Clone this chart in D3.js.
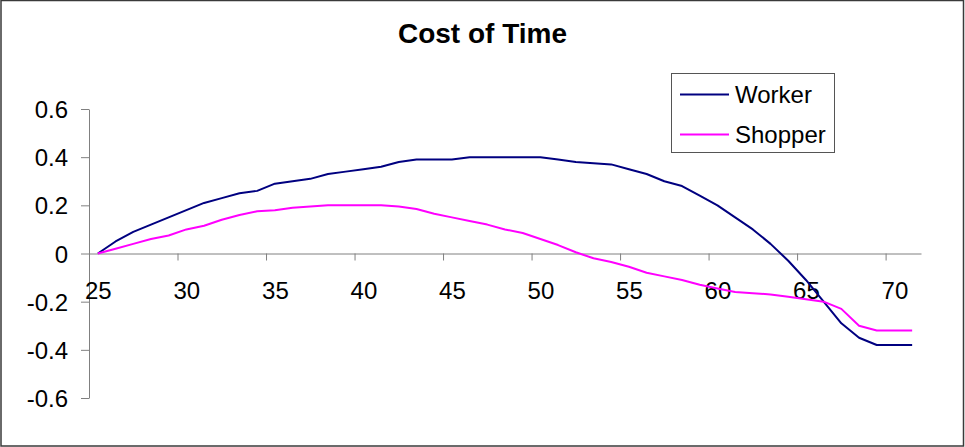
<!DOCTYPE html>
<html>
<head>
<meta charset="utf-8">
<script src="https://cdn.jsdelivr.net/npm/d3@7"></script>
<style>
  html, body { margin: 0; padding: 0; background: #fff; }
  svg { display: block; font-family: "Liberation Sans", Arial, sans-serif; }
</style>
</head>
<body>
<svg id="chart" width="965" height="447"></svg>
<script>
// Age categories along the x axis
const ages = d3.range(25, 72);

// Cost of time by age, one value per age
const worker = [
  0.00, 0.05, 0.09, 0.12, 0.15, 0.18, 0.21, 0.23, 0.25, 0.26,
  0.29, 0.30, 0.31, 0.33, 0.34, 0.35, 0.36, 0.38, 0.39, 0.39,
  0.39, 0.40, 0.40, 0.40, 0.40, 0.40, 0.39, 0.38, 0.375, 0.37,
  0.35, 0.33, 0.30, 0.28, 0.24, 0.20, 0.15, 0.10, 0.04, -0.03,
  -0.11, -0.20, -0.29, -0.35, -0.38, -0.38, -0.38
];
const shopper = [
  0.00, 0.02, 0.04, 0.06, 0.075, 0.10, 0.115, 0.14, 0.16, 0.175,
  0.18, 0.19, 0.195, 0.20, 0.20, 0.20, 0.20, 0.195, 0.185, 0.165,
  0.15, 0.135, 0.12, 0.10, 0.085, 0.06, 0.035, 0.005, -0.02, -0.035,
  -0.055, -0.08, -0.095, -0.11, -0.13, -0.145, -0.16, -0.165, -0.17, -0.18,
  -0.19, -0.20, -0.23, -0.30, -0.32, -0.32, -0.32
];

const seriesNames = ["Worker", "Shopper"];
const seriesColors = ["#000080", "#FF00FF"];

// Axis ticks and their labels
const yTicks = [0.6, 0.4, 0.2, 0, -0.2, -0.4, -0.6];
const yTickLabels = ["0.6", "0.4", "0.2", "0", "-0.2", "-0.4", "-0.6"];
const xLabelEvery = 5;

const svg = d3.select("#chart");
const W = 965, H = 447;
const labelSize = "24px";

// Outer chart frame
svg.append("rect")
  .attr("x", 1).attr("y", 0.5)
  .attr("width", W - 2.5).attr("height", H - 1.5)
  .attr("fill", "#fff")
  .attr("stroke", "#3a3a3a")
  .attr("stroke-width", 1.5);

// Plot geometry
const plot = { left: 89, right: 921, top: 109, bottom: 398 };

// Category index scale: category i occupies [i, i+1], its point sits at i + 0.5
const x = d3.scaleLinear().domain([0, ages.length]).range([plot.left, plot.right]);
const y = d3.scaleLinear().domain([-0.6, 0.6]).range([plot.bottom, plot.top]);

const axisColor = "#808080";

// Y axis
const yAxis = svg.append("g")
  .attr("transform", `translate(${plot.left},0)`)
  .call(d3.axisLeft(y)
    .tickValues(yTicks)
    .tickFormat((d, i) => yTickLabels[i])
    .tickSize(8)
    .tickPadding(13)
    .tickSizeOuter(0));
yAxis.select(".domain").attr("stroke", axisColor);
yAxis.selectAll(".tick line").attr("stroke", axisColor);
yAxis.selectAll(".tick text")
  .attr("fill", "#000")
  .style("font-size", labelSize)
  .attr("dy", "0.36em");

// X axis line at zero with tick marks at category boundaries
const tickIdx = d3.range(0, ages.length, xLabelEvery);
const xAxis = svg.append("g")
  .attr("transform", `translate(0,${y(0)})`)
  .call(d3.axisBottom(x)
    .tickValues(tickIdx)
    .tickFormat("")
    .tickSize(7)
    .tickSizeOuter(0));
xAxis.select(".domain").attr("stroke", axisColor);
xAxis.selectAll(".tick line").attr("stroke", axisColor);

// X labels centred on their category
const xLabels = svg.append("g")
  .attr("transform", `translate(0,${y(0)})`)
  .call(d3.axisBottom(x)
    .tickValues(tickIdx.map(i => i + 0.5))
    .tickFormat(d => ages[Math.floor(d)])
    .tickSize(0)
    .tickPadding(28));
xLabels.select(".domain").remove();
xLabels.selectAll(".tick text")
  .attr("fill", "#000")
  .style("font-size", labelSize);

// Series lines
const line = d3.line()
  .x((d, i) => x(i + 0.5))
  .y(d => y(d));

[worker, shopper].forEach((vals, k) => {
  svg.append("path")
    .datum(vals)
    .attr("fill", "none")
    .attr("stroke", seriesColors[k])
    .attr("stroke-width", 2)
    .attr("stroke-linejoin", "round")
    .attr("d", line);
});

// Title
svg.append("text")
  .attr("x", 482.5).attr("y", 43)
  .attr("text-anchor", "middle")
  .style("font-size", "28px")
  .style("font-weight", "bold")
  .text("Cost of Time");

// Legend
const legend = svg.append("g");
legend.append("rect")
  .attr("x", 671.5).attr("y", 73.5)
  .attr("width", 163).attr("height", 79)
  .attr("fill", "#fff")
  .attr("stroke", "#555")
  .attr("stroke-width", 1);
const legendRows = [94.5, 134.5];
seriesNames.forEach((name, k) => {
  legend.append("line")
    .attr("x1", 680).attr("x2", 729)
    .attr("y1", legendRows[k]).attr("y2", legendRows[k])
    .attr("stroke", seriesColors[k])
    .attr("stroke-width", 2);
  legend.append("text")
    .attr("x", 735).attr("y", legendRows[k] + 8)
    .style("font-size", labelSize)
    .text(name);
});
</script>
</body>
</html>
